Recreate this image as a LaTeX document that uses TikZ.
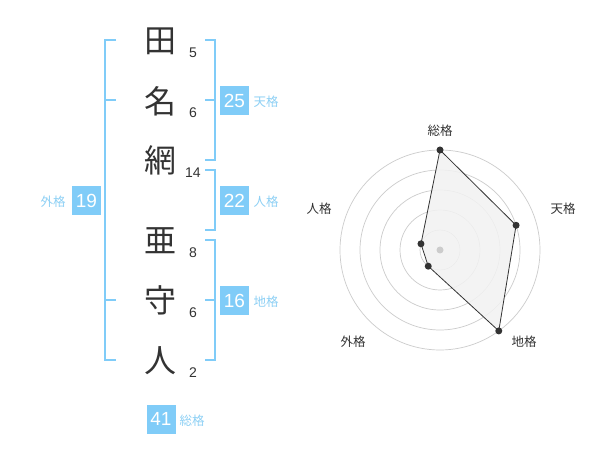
\documentclass[tikz,border=0pt]{standalone}
\usepackage{fontspec}
\usetikzlibrary{calc}
\setmainfont{Noto Sans CJK JP}
\newfontfamily\digitfont{Liberation Sans}
\definecolor{bluebox}{HTML}{80CCF8}
\definecolor{bluetxt}{HTML}{8DD0F5}
\definecolor{ink}{HTML}{333333}
\definecolor{ring}{HTML}{CCCCCC}
\definecolor{area}{HTML}{F2F2F2}
\tikzset{
  kanji/.style={inner sep=0pt, text=ink, font=\fontsize{32}{32}\selectfont},
  stroke/.style={inner sep=0pt, text=ink, font=\digitfont\fontsize{14}{14}\selectfont},
  valbox/.style={fill=bluebox, text=white, minimum size=29pt, inner sep=0pt, font=\digitfont\fontsize{19}{19}\selectfont},
  kaku/.style={inner sep=0pt, text=bluetxt, font=\fontsize{12.5}{12.5}\selectfont},
  brk/.style={draw=bluebox, line width=2pt},
  axlabel/.style={inner sep=0pt, text=ink, font=\fontsize{12.5}{12.5}\selectfont},
  ringline/.style={draw=ring, line width=0.7pt},
  pt/.style={circle, fill=ink, inner sep=0pt, minimum size=7pt},
}
\begin{document}
\begin{tikzpicture}[x=1pt,y=-1pt]
\useasboundingbox[fill=white] (0,0) rectangle (600,470);
% characters
\node[kanji] (c1) at (160,41) {田};
\node[kanji] (c2) at (160,101) {名};
\node[kanji] (c3) at (160,160) {網};
\node[kanji] (c4) at (160,241) {亜};
\node[kanji] (c5) at (160,300) {守};
\node[kanji] (c6) at (160,361) {人};
% stroke counts
\node[stroke] (n1) at (193,53) {5};
\node[stroke] (n2) at (193,113) {6};
\node[stroke] (n3) at (193,173) {14};
\node[stroke] (n4) at (193,253) {8};
\node[stroke] (n5) at (193,313) {6};
\node[stroke] (n6) at (193,373) {2};
% left bracket (外格)
\draw[brk] (116,40) -- (105,40) -- (105,360) -- (116,360);
\draw[brk] (105,100) -- (116,100);
\draw[brk] (105,300) -- (116,300);
% right brackets
\draw[brk] (205,40) -- (215,40) -- (215,160) -- (205,160);
\draw[brk] (205,100) -- (215,100);
\draw[brk] (205,170) -- (215,170) -- (215,230) -- (205,230);
\draw[brk] (205,240) -- (215,240) -- (215,360) -- (205,360);
\draw[brk] (205,300) -- (215,300);
% value boxes
\node[valbox] (b25) at (234.5,100.5) {25};
\node[kaku] (l25) at (266,102) {天格};
\node[valbox] (b22) at (234.5,200.5) {22};
\node[kaku] (l22) at (266,202) {人格};
\node[valbox] (b16) at (234.5,300.5) {16};
\node[kaku] (l16) at (266,302) {地格};
\node[valbox] (b19) at (86.5,200.5) {19};
\node[kaku] (l19) at (53,202) {外格};
\node[valbox] (b41) at (161,419) {41};
\node[kaku] (l41) at (192,421) {総格};
% radar chart
\coordinate (cc) at (440,250);
\foreach \r in {20,40,60,80,100} {
  \draw[ringline] (cc) circle[radius=\r pt];
}
\coordinate (pa) at ($(cc)+(-90:100)$);
\coordinate (pb) at ($(cc)+(-18:80)$);
\coordinate (pc) at ($(cc)+(54:100)$);
\coordinate (pd) at ($(cc)+(126:20)$);
\coordinate (pe) at ($(cc)+(-162:20)$);
\draw[fill=area, fill opacity=0.85, draw=ink, line width=0.8pt] (pa) -- (pb) -- (pc) -- (pd) -- (pe) -- cycle;
\fill[ring] (cc) circle[radius=3.5pt];
\foreach \p in {pa,pb,pc,pd,pe} { \node[pt] (dot\p) at (\p) {}; }
\node[axlabel] (ra) at (440,130.5) {総格};
\node[axlabel] (rb) at (563,209) {天格};
\node[axlabel] (rc) at (524,342) {地格};
\node[axlabel] (rd) at (353,342) {外格};
\node[axlabel] (re) at (319,209) {人格};
\end{tikzpicture}
\end{document}
